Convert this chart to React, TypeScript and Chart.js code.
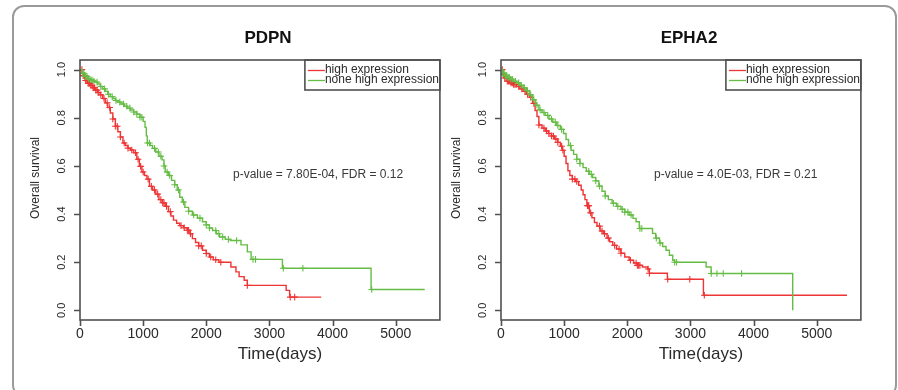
import React, { useEffect, useRef } from "react";
import { Chart, registerables } from "chart.js";

Chart.register(...registerables);

const FONT = '"Liberation Sans", Arial, Helvetica, sans-serif';

const xTicks = [0, 1000, 2000, 3000, 4000, 5000];
const yTicks = [0, 0.2, 0.4, 0.6, 0.8, 1.0];
const yTickLabels = ["0.0", "0.2", "0.4", "0.6", "0.8", "1.0"];
const legendLabels = ["high expression", "none high expression"];
const xAxisTitle = "Time(days)";
const yAxisTitle = "Overall survival";
const panelTitles = ["PDPN", "EPHA2"];
const panelStats = ["p-value = 7.80E-04, FDR = 0.12", "p-value = 4.0E-03, FDR = 0.21"];

const RED = "#ee3434";
const GREEN = "#66bd45";

// ---- PDPN, high expression ----
const pdpnHighTime = [0, 40, 80, 120, 160, 200, 240, 280, 320, 360, 400, 440, 480, 520, 560, 600, 640, 680, 720, 760, 800, 850, 900, 940, 980, 1020, 1060, 1100, 1150, 1200, 1250, 1300, 1350, 1400, 1440, 1480, 1530, 1580, 1640, 1700, 1740, 1780, 1830, 1880, 1940, 2000, 2050, 2110, 2200, 2390, 2470, 2520, 2600, 2650, 3265, 3320, 3820];
const pdpnHighSurv = [1.0, 0.975, 0.955, 0.943, 0.935, 0.925, 0.915, 0.905, 0.895, 0.88, 0.862, 0.843, 0.82, 0.795, 0.765, 0.742, 0.72, 0.695, 0.685, 0.674, 0.666, 0.655, 0.628, 0.598, 0.575, 0.56, 0.545, 0.515, 0.5, 0.483, 0.46, 0.447, 0.432, 0.41, 0.392, 0.375, 0.362, 0.352, 0.343, 0.333, 0.318, 0.298, 0.282, 0.268, 0.25, 0.236, 0.222, 0.21, 0.2, 0.18, 0.16, 0.14, 0.125, 0.104, 0.083, 0.055, 0.055];
const pdpnHighCensor = [30, 50, 70, 90, 110, 130, 150, 170, 190, 210, 230, 250, 270, 290, 330, 380, 430, 470, 520, 560, 590, 640, 700, 760, 820, 880, 920, 960, 1000, 1080, 1130, 1180, 1230, 1280, 1310, 1330, 1370, 1430, 1600, 1650, 1700, 1720, 1750, 1880, 1920, 2000, 2070, 2150, 2230, 2650, 3330, 3400];

// ---- PDPN, none high expression ----
const pdpnLowTime = [0, 40, 80, 120, 160, 200, 240, 280, 320, 360, 400, 440, 480, 520, 560, 600, 650, 700, 750, 800, 850, 900, 950, 1000, 1030, 1050, 1065, 1110, 1150, 1200, 1250, 1300, 1330, 1350, 1400, 1450, 1500, 1540, 1580, 1620, 1660, 1720, 1780, 1860, 1940, 2000, 2050, 2100, 2160, 2210, 2300, 2380, 2550, 2650, 2710, 3206, 4610, 5460];
const pdpnLowSurv = [1.0, 0.985, 0.972, 0.963, 0.958, 0.953, 0.948, 0.94, 0.93, 0.92, 0.91, 0.898, 0.888, 0.88, 0.872, 0.865, 0.857, 0.848, 0.84, 0.832, 0.824, 0.815, 0.802, 0.785, 0.76, 0.725, 0.695, 0.685, 0.673, 0.658, 0.64, 0.625, 0.6, 0.575, 0.56, 0.54, 0.522, 0.5, 0.47, 0.45, 0.428, 0.412, 0.396, 0.383, 0.368, 0.355, 0.342, 0.332, 0.318, 0.305, 0.295, 0.29, 0.272, 0.243, 0.212, 0.175, 0.087, 0.087];
const pdpnLowCensor = [40, 60, 85, 110, 135, 160, 190, 220, 270, 330, 390, 450, 510, 570, 630, 690, 740, 790, 850, 900, 950, 980, 1070, 1100, 1180, 1240, 1280, 1330, 1380, 1420, 1500, 1560, 1640, 1720, 1800, 1900, 2000, 2050, 2150, 2200, 2260, 2350, 2480, 2740, 2780, 3220, 3530, 4620];

// ---- EPHA2, high expression ----
const ephaHighTime = [0, 30, 60, 100, 150, 200, 250, 300, 350, 400, 450, 500, 540, 570, 600, 650, 700, 750, 800, 850, 900, 940, 970, 1000, 1030, 1060, 1090, 1130, 1180, 1230, 1270, 1300, 1330, 1360, 1400, 1440, 1480, 1520, 1570, 1620, 1680, 1720, 1770, 1830, 1900, 1960, 2030, 2100, 2160, 2240, 2320, 2350, 2635, 3206, 5480];
const ephaHighSurv = [1.0, 0.98, 0.965, 0.952, 0.945, 0.938, 0.93, 0.92, 0.91, 0.898, 0.885, 0.86, 0.83, 0.805, 0.77, 0.757, 0.745, 0.735, 0.724, 0.712, 0.698, 0.682, 0.665, 0.64, 0.61, 0.58, 0.56, 0.545, 0.535, 0.52, 0.5, 0.48, 0.46, 0.435, 0.405, 0.385, 0.365, 0.35, 0.33, 0.318, 0.3, 0.285, 0.27, 0.255, 0.237, 0.222, 0.208, 0.197, 0.187, 0.18, 0.172, 0.154, 0.129, 0.0625, 0.0625];
const ephaHighCensor = [20, 40, 60, 80, 100, 120, 140, 160, 180, 200, 220, 240, 280, 330, 380, 420, 470, 520, 600, 680, 720, 760, 800, 830, 870, 900, 960, 980, 1130, 1170, 1200, 1370, 1380, 1390, 1420, 1560, 1600, 1640, 1700, 1800, 1870, 1900, 2050, 2140, 2160, 2180, 2200, 2330, 2350, 2640, 2990, 3220];

// ---- EPHA2, none high expression ----
const ephaLowTime = [0, 30, 60, 100, 150, 200, 250, 300, 350, 400, 450, 500, 550, 600, 650, 700, 760, 820, 880, 940, 990, 1030, 1070, 1110, 1150, 1200, 1250, 1300, 1350, 1400, 1450, 1500, 1550, 1600, 1650, 1700, 1760, 1830, 1900, 1960, 2030, 2090, 2140, 2190, 2400, 2450, 2510, 2560, 2614, 2667, 2720, 2750, 3249, 3328, 4620];
const ephaLowSurv = [1.0, 0.985, 0.975, 0.968, 0.96, 0.952, 0.945, 0.935, 0.925, 0.912, 0.895, 0.875, 0.852, 0.833, 0.822, 0.81, 0.795, 0.782, 0.768, 0.752, 0.735, 0.71, 0.685, 0.665, 0.648, 0.628, 0.61, 0.593, 0.578, 0.565, 0.552, 0.538, 0.516, 0.495, 0.475, 0.46, 0.445, 0.432, 0.42, 0.408, 0.396, 0.382, 0.368, 0.34, 0.32, 0.3, 0.28, 0.265, 0.25, 0.229, 0.208, 0.2, 0.18, 0.153, 0.0];
const ephaLowCensor = [30, 50, 70, 90, 110, 130, 155, 180, 230, 280, 320, 370, 420, 470, 520, 570, 620, 680, 740, 800, 860, 900, 960, 1100, 1200, 1250, 1390, 1430, 1500, 1560, 1650, 1780, 1850, 1920, 1960, 2010, 2060, 2200, 2230, 2460, 2520, 2750, 2780, 3330, 3420, 3520, 3810];

const X_MIN = 0;
const X_MAX = 5700;
const Y_MIN = -0.04;
const Y_MAX = 1.04;

function survAt(times: number[], surv: number[], t: number): number {
  let s = surv[0];
  for (let i = 0; i < times.length; i++) {
    if (times[i] <= t) s = surv[i];
    else break;
  }
  return s;
}

function curve(times: number[], surv: number[]) {
  return times.map((t, i) => ({ x: t, y: surv[i] }));
}

function censors(times: number[], surv: number[], marks: number[]) {
  return marks.map((t) => ({ x: t, y: survAt(times, surv, t) }));
}

function makeDecor(title: string, stat: string) {
  return {
    id: "decor",
    afterDraw(chart: any) {
      const { ctx, chartArea: a, scales } = chart;
      const xs = scales.x;
      const ys = scales.y;
      ctx.save();
      ctx.strokeStyle = "#505050";
      ctx.lineWidth = 1.6;
      ctx.strokeRect(a.left, a.top, a.right - a.left, a.bottom - a.top);
      ctx.beginPath();
      xTicks.forEach((v) => {
        const px = Math.round(xs.getPixelForValue(v)) + 0.5;
        ctx.moveTo(px, a.bottom);
        ctx.lineTo(px, a.bottom + 6);
      });
      yTicks.forEach((v) => {
        const py = Math.round(ys.getPixelForValue(v)) + 0.5;
        ctx.moveTo(a.left, py);
        ctx.lineTo(a.left - 6, py);
      });
      ctx.stroke();

      ctx.fillStyle = "#2a2a2a";
      ctx.font = `14px ${FONT}`;
      ctx.textAlign = "center";
      ctx.textBaseline = "middle";
      xTicks.forEach((v) => {
        ctx.fillText(String(v), xs.getPixelForValue(v), a.bottom + 14);
      });
      ctx.font = `11px ${FONT}`;
      yTicks.forEach((v, i) => {
        ctx.save();
        ctx.translate(a.left - 18, ys.getPixelForValue(v));
        ctx.rotate(-Math.PI / 2);
        ctx.fillText(yTickLabels[i], 0, 0);
        ctx.restore();
      });
      ctx.font = `17px ${FONT}`;
      ctx.fillText(xAxisTitle, a.left + 200, a.bottom + 34);
      ctx.save();
      ctx.font = `12px ${FONT}`;
      ctx.translate(a.left - 44, 178);
      ctx.rotate(-Math.PI / 2);
      ctx.fillText(yAxisTitle, 0, 0);
      ctx.restore();

      ctx.fillStyle = "#111";
      ctx.font = `bold 17px ${FONT}`;
      ctx.fillText(title, a.left + 188, 38);

      ctx.fillStyle = "#3a3a3a";
      ctx.font = `12px ${FONT}`;
      ctx.textAlign = "left";
      ctx.fillText(stat, a.left + 153, 175);

      const lx = a.right - 135;
      ctx.strokeStyle = "#505050";
      ctx.lineWidth = 1.6;
      ctx.strokeRect(lx, a.top, a.right - lx, 30);
      const colors = [RED, GREEN];
      ctx.font = `12px ${FONT}`;
      ctx.fillStyle = "#2a2a2a";
      legendLabels.forEach((lab, i) => {
        const y = a.top + 10 + i * 10;
        ctx.strokeStyle = colors[i];
        ctx.lineWidth = 1.3;
        ctx.beginPath();
        ctx.moveTo(lx + 3, y + 0.5);
        ctx.lineTo(lx + 20, y + 0.5);
        ctx.stroke();
        ctx.fillText(lab, lx + 20, y);
      });
      ctx.restore();
    },
  };
}

type PanelProps = {
  title: string;
  stat: string;
  highT: number[];
  highS: number[];
  highC: number[];
  lowT: number[];
  lowS: number[];
  lowC: number[];
  left: number;
};

function Panel(p: PanelProps) {
  const ref = useRef<HTMLCanvasElement | null>(null);
  useEffect(() => {
    if (!ref.current) return;
    const lineDs = (data: any, color: string) => ({
      data,
      showLine: true,
      stepped: true,
      borderColor: color,
      backgroundColor: color,
      borderWidth: 1.4,
      pointRadius: 0,
      fill: false,
    });
    const censorDs = (data: any, color: string) => ({
      data,
      showLine: false,
      pointStyle: "cross",
      pointRadius: 3.3,
      pointBorderWidth: 1.1,
      pointBorderColor: color,
      pointBackgroundColor: color,
      borderColor: color,
    });
    const chart = new Chart(ref.current, {
      type: "scatter",
      data: {
        datasets: [
          lineDs(curve(p.lowT, p.lowS), GREEN),
          censorDs(censors(p.lowT, p.lowS, p.lowC), GREEN),
          lineDs(curve(p.highT, p.highS), RED),
          censorDs(censors(p.highT, p.highS, p.highC), RED),
        ] as any,
      },
      options: {
        animation: false,
        responsive: false,
        maintainAspectRatio: false,
        events: [],
        layout: { padding: { left: 80, top: 60, right: 5, bottom: 70 } },
        scales: {
          x: { type: "linear", min: X_MIN, max: X_MAX, display: false },
          y: { type: "linear", min: Y_MIN, max: Y_MAX, display: false },
        },
        plugins: {
          legend: { display: false },
          tooltip: { enabled: false },
          title: { display: false },
        },
      } as any,
      plugins: [makeDecor(p.title, p.stat)],
    });
    return () => chart.destroy();
  }, []);
  return (
    <canvas
      ref={ref}
      width={445}
      height={390}
      style={{ position: "absolute", left: p.left, top: 0, width: 445, height: 390 }}
    />
  );
}

export default function App() {
  return (
    <div
      style={{
        position: "fixed",
        left: 0,
        top: 0,
        width: 898,
        height: 390,
        overflow: "hidden",
        background: "#fff",
      }}
    >
      <div
        style={{
          position: "absolute",
          left: 12,
          top: 5,
          width: 885,
          height: 392,
          boxSizing: "border-box",
          border: "2px solid #9a9a9a",
          borderRadius: 12,
        }}
      />
      <Panel
        title={panelTitles[0]}
        stat={panelStats[0]}
        highT={pdpnHighTime}
        highS={pdpnHighSurv}
        highC={pdpnHighCensor}
        lowT={pdpnLowTime}
        lowS={pdpnLowSurv}
        lowC={pdpnLowCensor}
        left={0}
      />
      <Panel
        title={panelTitles[1]}
        stat={panelStats[1]}
        highT={ephaHighTime}
        highS={ephaHighSurv}
        highC={ephaHighCensor}
        lowT={ephaLowTime}
        lowS={ephaLowSurv}
        lowC={ephaLowCensor}
        left={421}
      />
    </div>
  );
}
